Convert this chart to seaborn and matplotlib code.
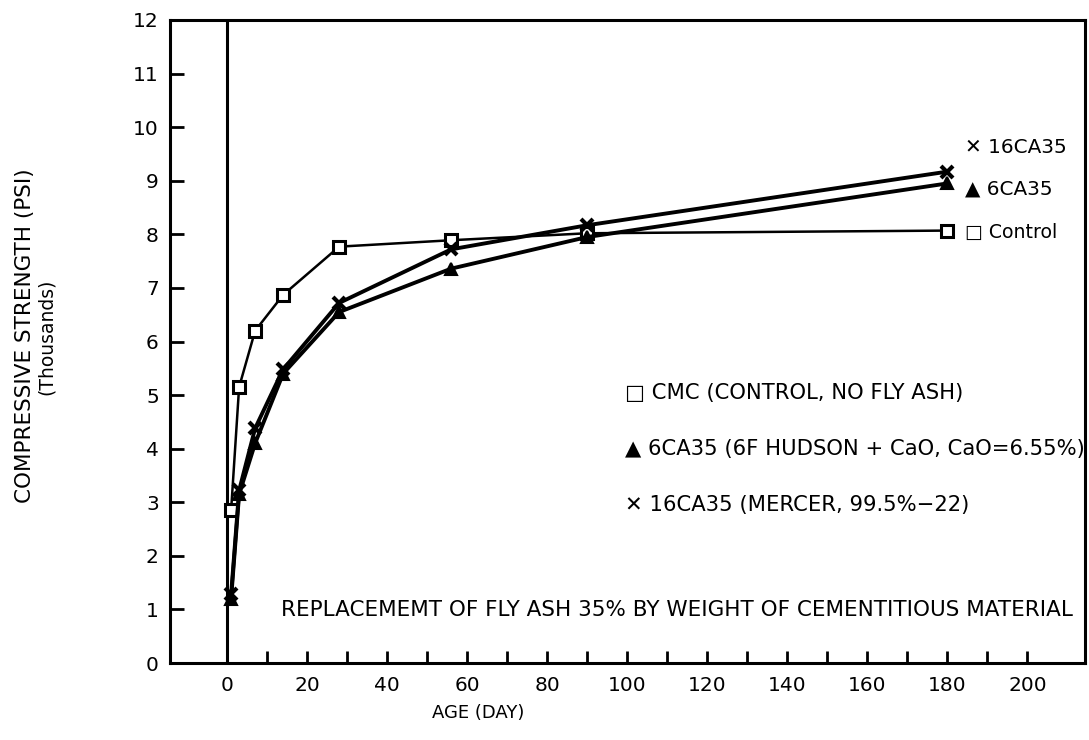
import matplotlib
matplotlib.use("Agg")
import matplotlib.pyplot as plt
import seaborn as sns
import pandas as pd
import numpy as np

sns.set_theme(style="white")
plt.rcParams["font.family"] = ["DejaVu Sans"]
plt.rcParams.update({"text.color": "black", "axes.labelcolor": "black",
                     "xtick.color": "black", "ytick.color": "black"})

# Age in days and compressive strength (thousands of psi)
age_days = [1, 3, 7, 14, 28, 56, 90, 180]
control_cmc = [2.85, 5.15, 6.2, 6.87, 7.77, 7.89, 8.02, 8.07]
mix_6ca35 = [1.2, 3.15, 4.1, 5.4, 6.55, 7.36, 7.95, 8.95]
mix_16ca35 = [1.28, 3.22, 4.38, 5.48, 6.72, 7.72, 8.17, 9.17]

series_names = ["Control", "6CA35", "16CA35"]

df = pd.concat([
    pd.DataFrame({"age": age_days, "strength": control_cmc, "mix": "Control"}),
    pd.DataFrame({"age": age_days, "strength": mix_6ca35, "mix": "6CA35"}),
    pd.DataFrame({"age": age_days, "strength": mix_16ca35, "mix": "16CA35"}),
], ignore_index=True)

fig = plt.figure(figsize=(10.89, 7.40), dpi=100)
ax = fig.add_axes([0.156, 0.104, 0.840, 0.869])

styles = {
    "Control": dict(marker="s", lw=1.8, ms=8, mfc="white", mew=2.2),
    "6CA35": dict(marker="^", lw=2.8, ms=8, mfc="black", mew=1.5),
    "16CA35": dict(marker="x", lw=2.8, ms=9, mfc="black", mew=3.0),
}
for name in series_names:
    st = styles[name]
    sns.lineplot(data=df[df["mix"] == name], x="age", y="strength", ax=ax,
                 color="black", linewidth=st["lw"], marker=st["marker"],
                 markersize=st["ms"], markerfacecolor=st["mfc"],
                 markeredgecolor="black", markeredgewidth=st["mew"],
                 legend=False)

ax.axvline(0, color="black", lw=2.2, zorder=1)

ax.set_xlim(-14.3, 214.3)
ax.set_ylim(0, 12)
ax.set_xticks(np.arange(0, 201, 20))
ax.set_xticks(np.arange(10, 200, 20), minor=True)
ax.set_yticks(np.arange(0, 13, 1))
ax.tick_params(axis="both", which="both", direction="in", color="black",
               width=2, labelsize=14.5, labelcolor="black")
ax.tick_params(axis="x", which="both", length=9, pad=9, bottom=True, top=False)
ax.tick_params(axis="y", which="both", length=10, pad=8, left=True, right=False)

for sp in ax.spines.values():
    sp.set_color("black")
    sp.set_linewidth(2.2)

ax.set_xlabel("")
ax.set_ylabel("")
fig.text(0.439, 0.036, "AGE (DAY)", ha="center", va="center", fontsize=13)
fig.text(0.023, 0.547, "COMPRESSIVE STRENGTH (PSI)", ha="center", va="center",
         rotation=90, fontsize=15.5)
fig.text(0.043, 0.545, "(Thousands)", ha="center", va="center",
         rotation=90, fontsize=13.5)

# End-of-line labels
ax.text(184.5, 9.62, "✕ 16CA35", fontsize=14.4, ha="left", va="center")
ax.text(184.5, 8.85, "▲ 6CA35", fontsize=14.4, ha="left", va="center")
ax.text(184.5, 8.03, "□ Control", fontsize=13.6, ha="left", va="center")

# Key
ax.text(99.5, 5.04, "□ CMC (CONTROL, NO FLY ASH)", fontsize=15.2, ha="left", va="center")
ax.text(99.5, 4.0, "▲ 6CA35 (6F HUDSON + CaO, CaO=6.55%)", fontsize=15.2, ha="left", va="center")
ax.text(99.5, 2.95, "✕ 16CA35 (MERCER, 99.5%−22)", fontsize=15.2, ha="left", va="center")
ax.text(13.5, 0.99, "REPLACEMEMT OF FLY ASH 35% BY WEIGHT OF CEMENTITIOUS MATERIAL",
        fontsize=15.5, ha="left", va="center")

fig.savefig("out.png", dpi=100, facecolor="white")
